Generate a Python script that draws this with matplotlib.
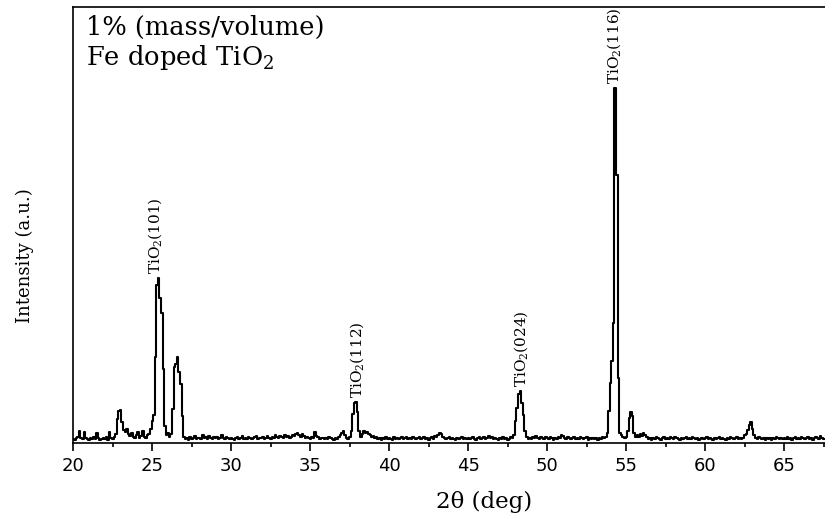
import numpy as np
import matplotlib
matplotlib.use("Agg")
import matplotlib.pyplot as plt

plt.rcParams['mathtext.fontset'] = 'dejavuserif'

# ---- data ----
start_2theta = 20.0
step_2theta = 0.1
intensity = [
    4, 3, 5, 6, 12, 5, 4, 11, 5, 4,          # 20
    3, 5, 4, 6, 4, 10, 5, 3, 4, 5,           # 21
    4, 6, 3, 11, 5, 4, 6, 9, 24, 32,         # 22
    33, 21, 13, 11, 14, 9, 7, 10, 6, 5,      # 23
    8, 11, 5, 7, 12, 6, 5, 8, 9, 14,         # 24
    22, 28, 86, 158, 165, 145, 130, 74, 17, 8,  # 25
    10, 6, 9, 34, 76, 79, 86, 71, 59, 27,    # 26
    6, 4, 5, 3, 6, 4, 5, 7, 4, 5,            # 27
    5, 4, 8, 5, 6, 4, 7, 5, 4, 6,            # 28
    5, 6, 4, 5, 8, 5, 4, 6, 5, 4,            # 29
    5, 4, 3, 5, 6, 4, 5, 7, 4, 5,            # 30
    4, 6, 5, 4, 5, 6, 7, 4, 5, 5,            # 31
    6, 4, 5, 7, 5, 4, 6, 5, 8, 6,            # 32
    5, 7, 6, 5, 8, 6, 7, 5, 6, 8,            # 33
    7, 9, 10, 8, 6, 9, 7, 5, 6, 5,           # 34
    4, 6, 5, 11, 7, 6, 4, 5, 5, 4,           # 35
    5, 4, 6, 5, 4, 3, 5, 4, 6, 8,            # 36
    10, 12, 8, 5, 4, 6, 12, 29, 40, 41,      # 37
    31, 12, 6, 9, 12, 10, 11, 9, 8, 6,       # 38
    7, 5, 6, 4, 5, 3, 5, 4, 6, 4,            # 39
    5, 4, 3, 6, 4, 5, 4, 5, 6, 4,            # 40
    5, 6, 4, 5, 4, 6, 5, 4, 5, 6,            # 41
    4, 5, 6, 4, 5, 3, 5, 6, 4, 7,            # 42
    6, 8, 10, 9, 6, 5, 4, 5, 6, 4,           # 43
    5, 4, 3, 5, 4, 5, 6, 4, 5, 4,            # 44
    5, 4, 5, 6, 4, 3, 5, 6, 4, 5,            # 45
    6, 4, 5, 7, 5, 6, 4, 5, 4, 3,            # 46
    5, 4, 6, 4, 5, 3, 4, 6, 5, 8,            # 47
    22, 35, 49, 52, 40, 28, 12, 6, 4, 5,     # 48
    4, 6, 5, 7, 5, 4, 6, 5, 4, 6,            # 49
    5, 4, 6, 5, 3, 5, 4, 6, 5, 8,            # 50
    7, 5, 4, 6, 5, 4, 5, 6, 4, 5,            # 51
    4, 6, 5, 4, 5, 6, 3, 5, 4, 5,            # 52
    4, 5, 3, 5, 4, 6, 5, 6, 10, 32,          # 53
    60, 82, 120, 355, 268, 65, 10, 8, 6, 5,  # 54
    6, 12, 25, 31, 27, 10, 6, 8, 6, 9,       # 55
    7, 10, 8, 6, 4, 5, 3, 5, 4, 6,           # 56
    5, 4, 3, 5, 6, 4, 5, 4, 6, 5,            # 57
    4, 6, 5, 4, 3, 5, 4, 5, 6, 4,            # 58
    5, 4, 6, 5, 4, 5, 3, 4, 5, 4,            # 59
    5, 6, 4, 5, 4, 3, 5, 4, 5, 6,            # 60
    4, 5, 4, 3, 5, 4, 6, 5, 4, 5,            # 61
    6, 4, 5, 4, 5, 8, 9, 13, 18, 21,         # 62
    14, 8, 5, 4, 6, 5, 4, 5, 3, 5,           # 63
    4, 5, 3, 5, 4, 6, 5, 4, 5, 4,            # 64
    5, 4, 6, 4, 5, 3, 5, 6, 4, 5,            # 65
    4, 6, 5, 4, 5, 6, 4, 5, 3, 5,            # 66
    6, 5, 4, 7, 5, 4,                        # 67.0-67.5
]
two_theta = np.round(start_2theta + step_2theta * np.arange(len(intensity)), 2)

peak_labels = ['TiO$_2$(101)', 'TiO$_2$(112)', 'TiO$_2$(024)', 'TiO$_2$(116)']
peak_label_2theta = [25.2, 37.95, 48.35, 54.2]

major_ticks = [20, 25, 30, 35, 40, 45, 50, 55, 60, 65]
minor_ticks = [22.5, 27.5, 32.5, 37.5, 42.5, 47.5, 52.5, 57.5, 62.5, 67.5]

title_lines = ['1% (mass/volume)', 'Fe doped TiO$_2$']
x_label = '2θ (deg)'
y_label = 'Intensity (a.u.)'

# ---- layout ----
W, H = 825, 517
L, B, T = 73.3, 443.3, 6.7
px_per_deg = 15.8

fig = plt.figure(figsize=(W / 100, H / 100), dpi=100)
ax = fig.add_axes([L / W, 1 - B / H, 1 - L / W, (B - T) / H])

ax.step(two_theta, intensity, where='mid', color='black', lw=1.5)
ax.set_xlim(20, 20 + (W - L) / px_per_deg)
ax.set_ylim(0, B - T)

for s in ['left', 'bottom', 'top']:
    ax.spines[s].set_linewidth(1.2)
    ax.spines[s].set_color('black')
ax.spines['right'].set_visible(False)

ax.set_xticks(major_ticks)
ax.set_xticks(minor_ticks, minor=True)
ax.set_xticklabels([str(t) for t in major_ticks])
ax.tick_params(axis='x', which='major', direction='out', length=6, width=1.2,
               labelsize=13, pad=4, top=False)
ax.tick_params(axis='x', which='minor', direction='out', length=3, width=1.2, top=False)
ax.set_yticks([])

serif = ['DejaVu Serif']
tt = np.array(two_theta)
ii = np.array(intensity)
for lab, x in zip(peak_labels, peak_label_2theta):
    m = np.abs(tt - x) <= 0.3
    y = ii[m].max() + 4
    ax.text(x, y, lab, rotation=90, ha='center', va='bottom', fontsize=11,
            family=serif, color='black')

fig.text(86 / W, 1 - 35 / H, title_lines[0], ha='left', va='baseline',
         fontsize=18.5, family=serif)
fig.text(86 / W, 1 - 65 / H, title_lines[1], ha='left', va='baseline',
         fontsize=18.5, family=serif)

fig.text(484 / W, 1 - 508 / H, x_label, ha='center', va='baseline',
         fontsize=16.5, family=serif)
fig.text(24.5 / W, 1 - 255.5 / H, y_label, rotation=90, ha='center', va='center',
         fontsize=13, family=serif)

fig.savefig('out.png', dpi=100)
